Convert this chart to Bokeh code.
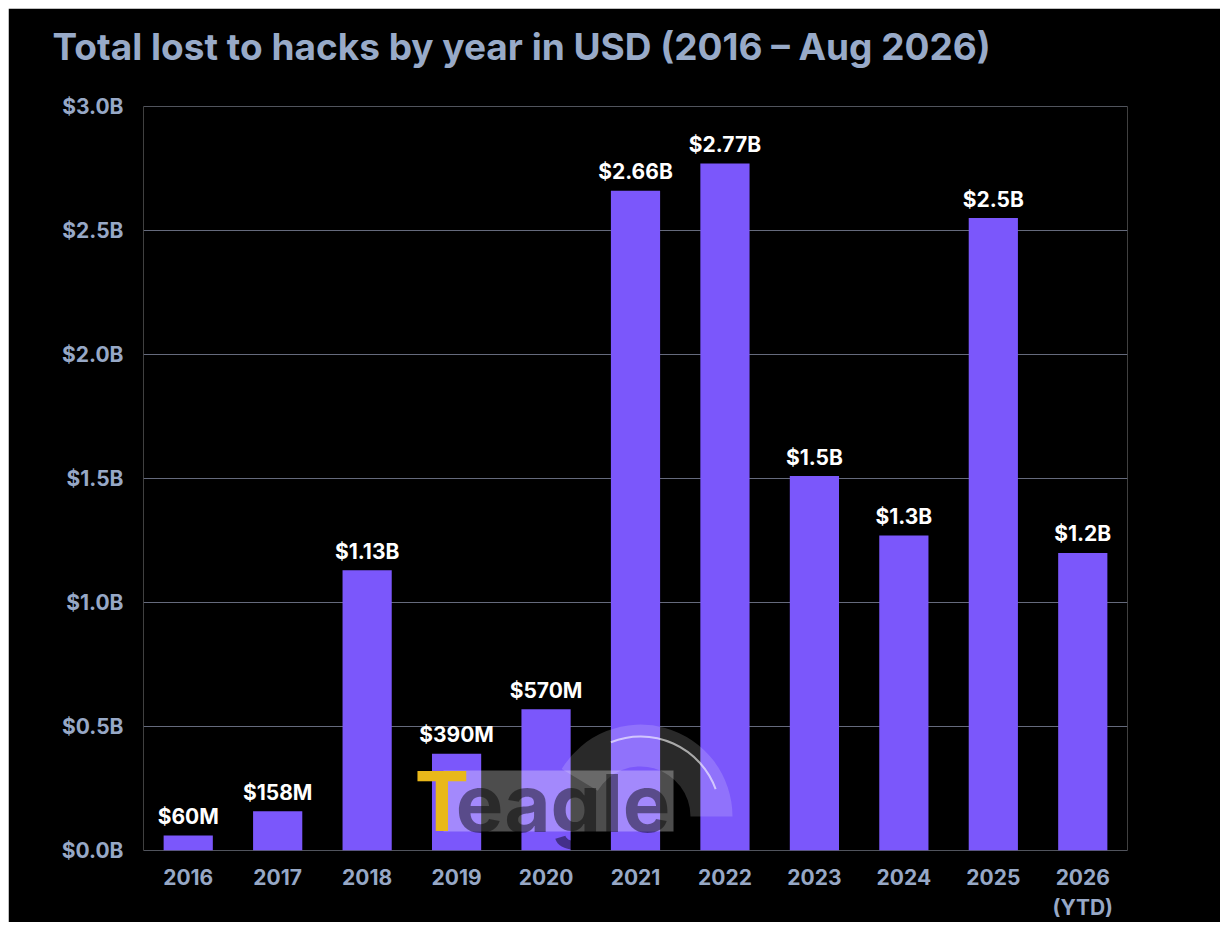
from bokeh.plotting import figure
from bokeh.models import ColumnDataSource, Range1d, FixedTicker, CustomJSTickFormatter, Label, BoxAnnotation, Title, Span
from bokeh.core.properties import value
from bokeh.embed import file_html
from bokeh.resources import INLINE

years = ["2016", "2017", "2018", "2019", "2020", "2021", "2022", "2023", "2024", "2025", "2026\n(YTD)"]
losses_busd = [0.06, 0.158, 1.13, 0.39, 0.57, 2.66, 2.77, 1.51, 1.27, 2.55, 1.2]
bar_labels = ["$60M", "$158M", "$1.13B", "$390M", "$570M", "$2.66B", "$2.77B", "$1.5B", "$1.3B", "$2.5B", "$1.2B"]
y_ticks = [0.0, 0.5, 1.0, 1.5, 2.0, 2.5, 3.0]
title_text = "Total lost to hacks by year in USD (2016 \u2013 Aug 2026)"

FONT = "Inter"
TICK_COLOR = "#97a8c6"
GRID_COLOR = "#656a7c"

src = ColumnDataSource(dict(year=years, loss=losses_busd, label=bar_labels))

p = figure(x_range=years, y_range=Range1d(0, 3.0), width=1212, height=914,
           output_backend="svg", toolbar_location=None, tools="",
           outline_line_color=None,
           min_border_left=135, min_border_right=93, min_border_top=98, min_border_bottom=71)

p.background_fill_color = "black"
p.border_fill_color = "black"

# spacer between frame and title, then the title itself
p.add_layout(Title(text=" ", text_font=FONT, text_font_size="30px", standoff=0,
                   text_color="black"), "above")
p.add_layout(Title(text=title_text, text_font=FONT, text_font_size="37px",
                   text_font_style="bold", text_color="#98aac8", align="left",
                   offset=-91, standoff=0), "above")

# horizontal grid lines at the y ticks, one span each
p.xgrid.visible = False
p.ygrid.visible = False
for t in y_ticks:
    p.add_layout(Span(location=t, dimension="width", line_color=GRID_COLOR,
                      line_width=1, level="underlay"))

p.vbar(x="year", top="loss", width=0.55, source=src, fill_color="#7b57fb", line_color=None)

# watermark (Teagle logo, approximate)
p.annular_wedge(x=5.556, y=0.137, inner_radius=50, outer_radius=92,
                inner_radius_units="screen", outer_radius_units="screen",
                start_angle=0.0, end_angle=2.6, fill_color="white", fill_alpha=0.16, line_color=None)
p.arc(x=5.556, y=0.137, radius=80, radius_units="screen", start_angle=0.35, end_angle=1.95,
      line_color="white", line_alpha=0.6, line_width=2)
p.add_layout(BoxAnnotation(left=3.354, right=5.925, bottom=0.077, top=0.323,
                           fill_color="white", fill_alpha=0.3, line_color=None))
p.add_layout(Label(x=3.49, y=0.0, text="eagle", text_font=FONT, text_font_style="bold",
                   text_font_size="80px", text_color="black", text_alpha=0.45))
p.add_layout(Label(x=3.03, y=0.0, text="T", text_font=FONT, text_font_style="bold",
                   text_font_size="82px", text_color="#e9b81a"))

p.text(x="year", y="loss", text="label", source=src, text_align="center",
       text_baseline="alphabetic", y_offset=-19, text_color="white",
       text_font=value(FONT), text_font_style="bold", text_font_size="21px")

p.yaxis.ticker = FixedTicker(ticks=y_ticks)
p.yaxis.formatter = CustomJSTickFormatter(code="return '$' + tick.toFixed(1) + 'B';")

p.axis.axis_line_color = None
p.axis.major_tick_line_color = None
p.axis.minor_tick_line_color = None
p.axis.major_label_text_font = FONT
p.axis.major_label_text_font_style = "bold"
p.axis.major_label_text_font_size = "21px"
p.axis.major_label_text_color = TICK_COLOR

p.yaxis.major_label_standoff = 14
p.xaxis.major_label_standoff = 8

html = file_html(p, INLINE)
html = html.replace("<body>", "<body style=\"margin:8px;background:white;\">")
open("out.html", "w").write(html)
